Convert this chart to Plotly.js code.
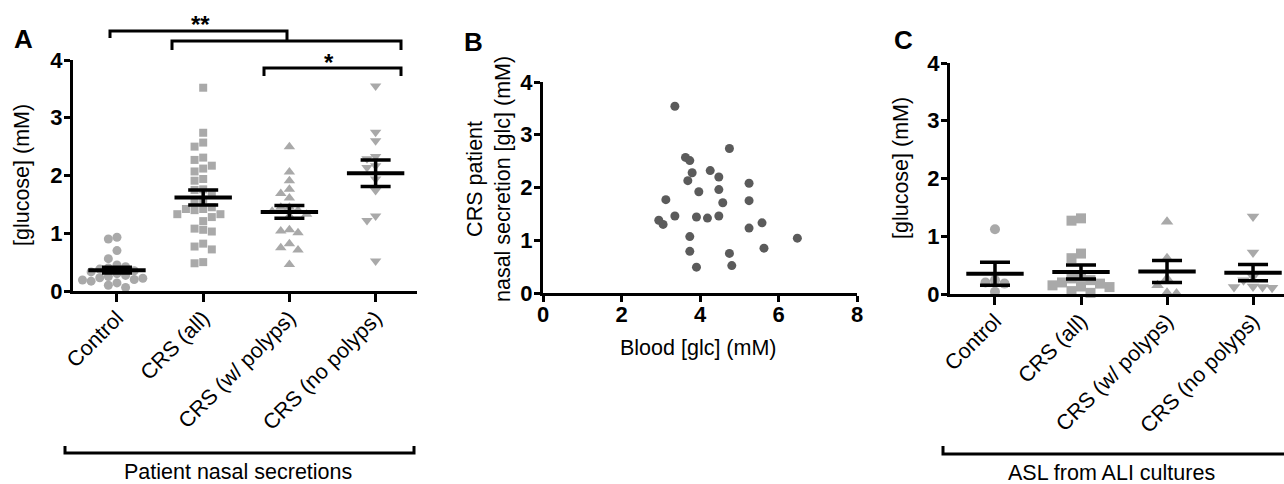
<!DOCTYPE html>
<html><head><meta charset="utf-8">
<script src="https://cdn.plot.ly/plotly-3.0.1.min.js"></script>
<style>html,body{margin:0;padding:0;background:#fff;}#chart{width:1284px;height:484px;}</style>
</head><body><div id="chart"></div>
<script>
// ---------- DATA ----------
const categories = ['Control', 'CRS (all)', 'CRS (w/ polyps)', 'CRS (no polyps)'];
const tickNums = [0, 1, 2, 3, 4];
const bloodTicks = [0, 2, 4, 6, 8];

// Panel A: patient nasal secretions [glucose] (mM)
const nasalControl = [0.93, 0.90, 0.70, 0.56, 0.45, 0.42, 0.40, 0.38, 0.35, 0.33, 0.30, 0.27, 0.25, 0.23, 0.22, 0.20, 0.19, 0.17, 0.14, 0.10, 0.06];
const nasalCrsAll = [3.52, 2.74, 2.57, 2.50, 2.31, 2.27, 2.17, 2.12, 2.07, 1.94, 1.91, 1.76, 1.75, 1.70, 1.58, 1.55, 1.45, 1.42, 1.42, 1.40, 1.33, 1.33, 1.28, 1.21, 1.08, 1.06, 1.03, 0.82, 0.77, 0.72, 0.50, 0.48];
const nasalPolyps = [2.50, 2.06, 1.91, 1.76, 1.69, 1.61, 1.45, 1.45, 1.40, 1.38, 1.33, 1.30, 1.06, 1.04, 1.01, 0.82, 0.75, 0.71, 0.46];
const nasalNoPolyps = [3.55, 2.75, 2.60, 2.33, 2.29, 2.17, 2.14, 1.94, 1.74, 1.30, 1.22, 0.52];
const nasalMeans = [0.36, 1.62, 1.37, 2.04];
const nasalSems = [0.05, 0.13, 0.11, 0.23];

// Panel B: blood vs nasal secretion glucose (mM)
const bloodGlc = [3.36, 4.75, 3.63, 3.74, 3.80, 4.26, 4.48, 3.69, 5.25, 3.97, 4.48, 3.13, 5.25, 4.58, 2.95, 3.06, 3.36, 3.91, 4.19, 4.48, 5.58, 5.25, 3.74, 6.48, 3.74, 4.75, 5.63, 3.91, 4.81];
const secretionGlc = [3.54, 2.74, 2.57, 2.51, 2.28, 2.32, 2.20, 2.13, 2.08, 1.92, 1.96, 1.77, 1.75, 1.71, 1.38, 1.30, 1.46, 1.44, 1.42, 1.46, 1.33, 1.23, 1.07, 1.04, 0.79, 0.75, 0.85, 0.49, 0.52];

// Panel C: ASL from ALI cultures [glucose] (mM)
const aslControl = [1.12, 0.24, 0.20, 0.18, 0.04];
const aslCrsAll = [1.31, 1.27, 0.70, 0.62, 0.30, 0.27, 0.24, 0.20, 0.18, 0.15, 0.13, 0.12, 0.05, 0.02];
const aslPolyps = [1.25, 0.62, 0.27, 0.15, 0.02, 0.01];
const aslNoPolyps = [1.34, 0.72, 0.30, 0.24, 0.13, 0.12, 0.12, 0.11];
const aslMeans = [0.35, 0.38, 0.39, 0.37];
const aslSems = [0.20, 0.12, 0.19, 0.14];

// ---------- HELPERS ----------
const W = 1284, H = 484;
const px = x => x / W;
const py = y => 1 - y / H;
const FONT = 'Liberation Sans, Arial, Helvetica, sans-serif';
const LIGHT = '#a9a9a9';
const DARK = '#5b5b5b';
const TXT = 21.5;

// deterministic beeswarm offsets (in category units) computed from values
function swarm(vals, yPxPerUnit, xPxPerUnit, step) {
  const idx = vals.map((v, i) => i).sort((a, b) => vals[b] - vals[a]);
  const placed = [];
  const offs = new Array(vals.length).fill(0);
  for (const i of idx) {
    const y = vals[i] * yPxPerUnit;
    for (let k = 0; k < 60; k++) {
      const m = k === 0 ? 0 : (k % 2 === 1 ? -Math.ceil(k / 2) : Math.ceil(k / 2));
      const x = m * step;
      if (placed.every(p => Math.hypot(p.x - x, p.y - y) >= step)) {
        placed.push({x, y}); offs[i] = x / xPxPerUnit; break;
      }
    }
  }
  return offs;
}

const symbols = ['circle', 'square', 'triangle-up', 'triangle-down'];
const sizesA = [9, 8, 10, 10];
const sizesC = [10, 10, 11, 11];

function groupTraces(groups, xa, ya, sizes, yppu, step) {
  return groups.map((vals, g) => {
    const offs = swarm(vals, yppu, 86, step);
    return {
      type: 'scatter', mode: 'markers', xaxis: xa, yaxis: ya, cliponaxis: false,
      x: vals.map((v, i) => g + offs[i]), y: vals,
      marker: {symbol: symbols[g], size: sizes[g], color: LIGHT, line: {width: 0}},
      hoverinfo: 'y', showlegend: false
    };
  });
}
function meanTrace(means, sems, xa, ya) {
  return {
    type: 'scatter', mode: 'markers', xaxis: xa, yaxis: ya, cliponaxis: false,
    x: means.map((m, i) => i), y: means,
    marker: {symbol: 'line-ew', size: 41, color: '#000', line: {color: '#000', width: 4}},
    error_y: {type: 'data', array: sems, visible: true, color: '#000', thickness: 3.5, width: 15},
    hoverinfo: 'y', showlegend: false
  };
}

const traces = [
  ...groupTraces([nasalControl, nasalCrsAll, nasalPolyps, nasalNoPolyps], 'x', 'y', sizesA, 57.7, 8.6),
  meanTrace(nasalMeans, nasalSems, 'x', 'y'),
  {type: 'scatter', mode: 'markers', xaxis: 'x2', yaxis: 'y2', cliponaxis: false,
   x: bloodGlc, y: secretionGlc, marker: {symbol: 'circle', size: 9, color: DARK}, showlegend: false},
  ...groupTraces([aslControl, aslCrsAll, aslPolyps, aslNoPolyps], 'x3', 'y3', sizesC, 57.7, 9.5),
  meanTrace(aslMeans, aslSems, 'x3', 'y3')
];

const tickFontBold = {family: FONT, size: 22, color: '#000', weight: 'bold'};
const catFont = {family: FONT, size: TXT, color: '#000'};
function yAxis(dom, anchor) {
  return {domain: dom, anchor: anchor, range: [0, 4], tickvals: tickNums, ticktext: tickNums.map(String),
    showline: true, linewidth: 3, linecolor: '#000', ticks: 'outside', ticklen: 6, tickwidth: 3,
    tickcolor: '#000', showgrid: false, zeroline: false, tickfont: tickFontBold, fixedrange: true,
    ticklabelstandoff: -3};
}
function catAxis(dom, range, anchor) {
  return {domain: dom, anchor: anchor, range: range, tickvals: [0, 1, 2, 3], ticktext: categories,
    tickangle: -45, showline: true, linewidth: 3, linecolor: '#000', ticks: 'outside', ticklen: 8,
    tickwidth: 3, tickcolor: '#000', showgrid: false, zeroline: false, tickfont: catFont, fixedrange: true,
    ticklabelstandoff: -5};
}
const ann = (text, x, y, size, extra) => Object.assign({text, x: px(x), y: py(y), xref: 'paper', yref: 'paper',
  showarrow: false, font: {size: size, family: FONT, color: '#000'}, xanchor: 'center', yanchor: 'middle'}, extra || {});
const bracket = pts => ({type: 'path', xref: 'paper', yref: 'paper', line: {color: '#000', width: 3},
  path: pts.map((p, i) => (i ? 'L' : 'M') + px(p[0]) + ',' + py(p[1])).join(' ')});

const layout = {
  width: W, height: H, margin: {l: 0, r: 0, t: 0, b: 0},
  paper_bgcolor: '#fff', plot_bgcolor: '#fff', showlegend: false,
  font: {family: FONT, color: '#000'},
  xaxis: catAxis([px(73), px(417)], [-0.51, 3.48], 'y'),
  yaxis: yAxis([py(291), py(60)], 'x'),
  xaxis2: {domain: [px(543), px(857)], anchor: 'y2', range: [0, 8], tickvals: bloodTicks,
    showline: true, linewidth: 3, linecolor: '#000', ticks: 'outside', ticklen: 6, tickwidth: 3,
    tickcolor: '#000', showgrid: false, zeroline: false, tickfont: tickFontBold, fixedrange: true,
    ticklabelstandoff: -6},
  yaxis2: yAxis([py(293), py(82)], 'x2'),
  xaxis3: catAxis([px(950), 1], [-0.523, 3.36], 'y3'),
  yaxis3: yAxis([py(294), py(63)], 'x3'),
  annotations: [
    ann('<b>A</b>', 24, 39, 26),
    ann('<b>B</b>', 473, 42, 26),
    ann('<b>C</b>', 903, 40, 26),
    ann('[glucose] (mM)', 22, 175, TXT, {textangle: -90}),
    ann('CRS patient<br>nasal secretion [glc] (mM)', 489, 179, TXT, {textangle: -90}),
    ann('Blood [glc] (mM)', 698, 348, TXT),
    ann('[glucose] (mM)', 901, 168, TXT, {textangle: -90}),
    ann('Patient nasal secretions', 238, 472, TXT),
    ann('ASL from ALI cultures', 1111, 473, TXT),
    ann('<b>**</b>', 200, 25, 24),
    ann('<b>*</b>', 329, 62, 24)
  ],
  shapes: [
    bracket([[110, 38], [110, 31], [287, 31], [287, 41]]),
    bracket([[172, 50], [172, 41], [401, 41], [401, 50]]),
    bracket([[264, 76], [264, 68], [401, 68], [401, 76]]),
    bracket([[65, 446], [65, 453], [414, 453], [414, 446]]),
    bracket([[943, 446], [943, 454], [1290, 454]])
  ]
};

Plotly.newPlot('chart', traces, layout, {staticPlot: true, displayModeBar: false});
</script>
</body></html>
